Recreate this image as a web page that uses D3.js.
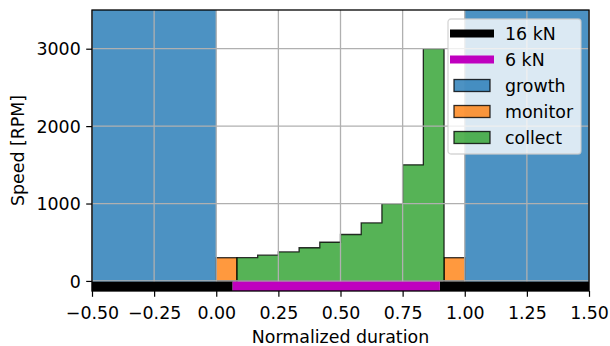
<!DOCTYPE html>
<html>
<head>
<meta charset="utf-8">
<script src="https://cdn.jsdelivr.net/npm/d3@7"></script>
<style>
    body { margin: 0; background: #fff; }
    text { font-family: "DejaVu Sans", sans-serif; fill: #000; }
</style>
</head>
<body>
<div id="chart"></div>
<script>
// Phase spans (normalized duration)
const growthSpans = [[-0.5, 0], [1, 1.5]];
const monitorBins = [[0, 1 / 12, 300], [11 / 12, 1, 300]];

// Collect phase: bin edges and speeds
const collectEdges = [1/12, 2/12, 3/12, 4/12, 5/12, 6/12, 7/12, 8/12, 9/12, 10/12, 11/12];
const collectSpeeds = [300, 333, 375, 429, 500, 600, 750, 1000, 1500, 3000];

// Force segments drawn under the zero line
const force16 = [[-0.5, 0.066], [0.9, 1.5]];
const force6 = [[0.066, 0.9]];

const xTicks = [-0.5, -0.25, 0, 0.25, 0.5, 0.75, 1, 1.25, 1.5];
const yTicks = [0, 1000, 2000, 3000];

const legendItems = [
    { label: '16 kN', kind: 'line', color: '#000000' },
    { label: '6 kN', kind: 'line', color: '#bf00bf' },
    { label: 'growth', kind: 'patch', color: '#1f77b4' },
    { label: 'monitor', kind: 'patch', color: '#ff7f0e' },
    { label: 'collect', kind: 'patch', color: '#2ca02c' }
];

const width = 610, height = 346;
const margin = { top: 10, right: 21, bottom: 55, left: 92 };
const fs = 17.4;

const svg = d3.select('#chart').append('svg')
    .attr('width', width)
    .attr('height', height);

const x = d3.scaleLinear().domain([-0.5, 1.5]).range([margin.left, width - margin.right]);
const y = d3.scaleLinear().domain([-130, 3500]).range([height - margin.bottom, margin.top]);

const plot = svg.append('g');

// growth spans, full height
plot.selectAll('.growth')
    .data(growthSpans)
    .enter()
    .append('rect')
    .attr('x', d => x(d[0]))
    .attr('width', d => x(d[1]) - x(d[0]))
    .attr('y', y(3500))
    .attr('height', y(-130) - y(3500))
    .attr('fill', '#1f77b4')
    .attr('fill-opacity', 0.8);

// monitor bars
plot.selectAll('.monitor')
    .data(monitorBins)
    .enter()
    .append('rect')
    .attr('x', d => x(d[0]))
    .attr('width', d => x(d[1]) - x(d[0]))
    .attr('y', d => y(d[2]))
    .attr('height', d => y(0) - y(d[2]))
    .attr('fill', '#ff7f0e')
    .attr('fill-opacity', 0.8)
    .attr('stroke', '#000')
    .attr('stroke-opacity', 0.8)
    .attr('stroke-width', 1.3);

// collect stepfilled histogram
const stepPts = [[collectEdges[0], 0]];
collectSpeeds.forEach((v, i) => {
    stepPts.push([collectEdges[i], v]);
    stepPts.push([collectEdges[i + 1], v]);
});
stepPts.push([collectEdges[collectEdges.length - 1], 0]);

plot.append('path')
    .attr('d', d3.line().x(d => x(d[0])).y(d => y(d[1]))(stepPts) + 'Z')
    .attr('fill', '#2ca02c')
    .attr('fill-opacity', 0.8)
    .attr('stroke', '#000')
    .attr('stroke-opacity', 0.8)
    .attr('stroke-width', 1.3)
    .attr('stroke-linejoin', 'miter');

// grid on top
const grid = svg.append('g');
grid.selectAll('.gx')
    .data(xTicks)
    .enter()
    .append('line')
    .attr('x1', d => x(d)).attr('x2', d => x(d))
    .attr('y1', y(3500)).attr('y2', y(-130))
    .attr('stroke', '#b0b0b0')
    .attr('stroke-width', 1.3);
grid.selectAll('.gy')
    .data(yTicks)
    .enter()
    .append('line')
    .attr('x1', x(-0.5)).attr('x2', x(1.5))
    .attr('y1', d => y(d)).attr('y2', d => y(d))
    .attr('stroke', '#b0b0b0')
    .attr('stroke-width', 1.3);

// force bars
const forceG = svg.append('g');
const forceY0 = y(0) + 0.7, forceY1 = y(-130);
forceG.selectAll('.f16')
    .data(force16)
    .enter()
    .append('rect')
    .attr('x', d => x(d[0]))
    .attr('width', d => x(d[1]) - x(d[0]))
    .attr('y', forceY0)
    .attr('height', forceY1 - forceY0)
    .attr('fill', '#000');
forceG.selectAll('.f6')
    .data(force6)
    .enter()
    .append('rect')
    .attr('x', d => x(d[0]))
    .attr('width', d => x(d[1]) - x(d[0]))
    .attr('y', forceY0)
    .attr('height', forceY1 - forceY0)
    .attr('fill', '#bf00bf');

// axes
const fmtX = d => d3.format('.2f')(d).replace('-', '\u2212');
const xAxis = svg.append('g')
    .attr('transform', `translate(0,${y(-130)})`)
    .call(d3.axisBottom(x).tickValues(xTicks).tickFormat(fmtX).tickSize(5.8).tickPadding(5));
const yAxis = svg.append('g')
    .attr('transform', `translate(${x(-0.5)},0)`)
    .call(d3.axisLeft(y).tickValues(yTicks).tickFormat(d3.format('d')).tickSize(5.8).tickPadding(5.5));

[xAxis, yAxis].forEach(a => {
    a.select('.domain').remove();
    a.selectAll('.tick line').attr('stroke', '#000').attr('stroke-width', 1.2);
    a.selectAll('.tick text')
        .style('font-size', fs + 'px')
        .style('font-family', '"DejaVu Sans", sans-serif')
        .attr('fill', '#000');
});
xAxis.selectAll('.tick text').attr('dy', null).attr('y', 28.2);
yAxis.selectAll('.tick text').attr('dy', '0.36em');

// frame
svg.append('rect')
    .attr('x', x(-0.5)).attr('y', y(3500))
    .attr('width', x(1.5) - x(-0.5))
    .attr('height', y(-130) - y(3500))
    .attr('fill', 'none')
    .attr('stroke', '#000')
    .attr('stroke-width', 1.3);

// axis labels
svg.append('text')
    .attr('x', x(0.5))
    .attr('y', 342.5)
    .attr('text-anchor', 'middle')
    .style('font-size', fs + 'px')
    .text('Normalized duration');
svg.append('text')
    .attr('transform', `translate(24,${(y(3500) + y(-130)) / 2}) rotate(-90)`)
    .attr('text-anchor', 'middle')
    .style('font-size', fs + 'px')
    .text('Speed [RPM]');

// legend
const lg = svg.append('g').attr('transform', 'translate(448,19)');
lg.append('rect')
    .attr('width', 133).attr('height', 135)
    .attr('rx', 3)
    .attr('fill', '#fff').attr('fill-opacity', 0.8)
    .attr('stroke', '#cccccc').attr('stroke-opacity', 0.8)
    .attr('stroke-width', 1.3);
const rows = lg.selectAll('.row')
    .data(legendItems)
    .enter()
    .append('g')
    .attr('transform', (d, i) => `translate(0,${14.5 + i * 26})`);
rows.filter(d => d.kind === 'line')
    .append('line')
    .attr('x1', 2).attr('x2', 46)
    .attr('stroke', d => d.color)
    .attr('stroke-width', 8);
rows.filter(d => d.kind === 'patch')
    .append('rect')
    .attr('x', 6).attr('y', -6)
    .attr('width', 36).attr('height', 12)
    .attr('fill', d => d.color).attr('fill-opacity', 0.8)
    .attr('stroke', '#000').attr('stroke-opacity', 0.8)
    .attr('stroke-width', 1.3);
rows.append('text')
    .attr('x', 57)
    .attr('dy', '0.36em')
    .style('font-size', fs + 'px')
    .text(d => d.label);
</script>
</body>
</html>
